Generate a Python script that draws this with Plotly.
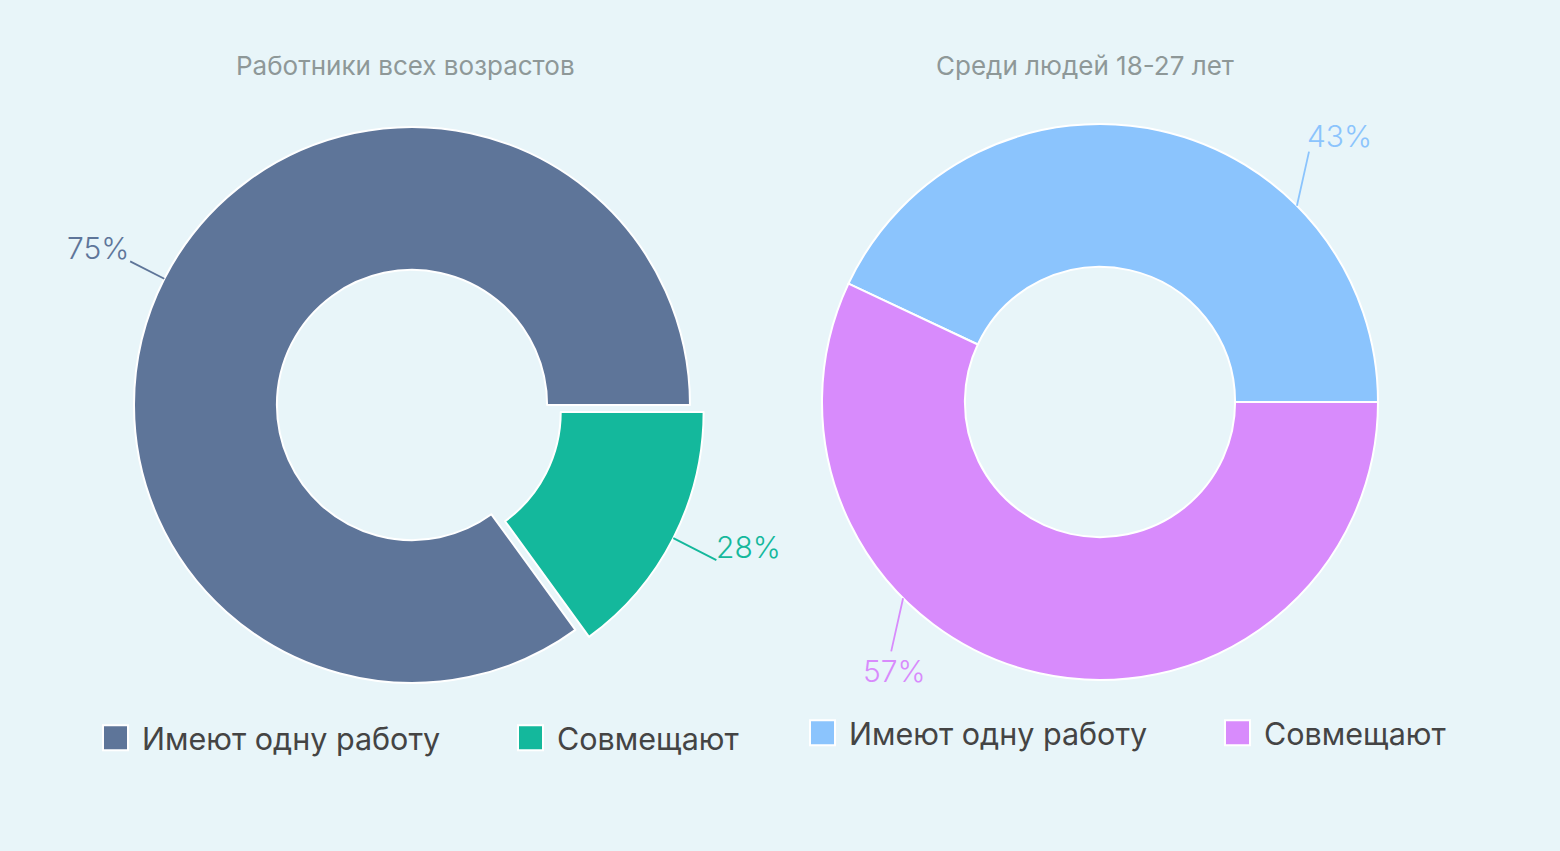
import math
import plotly.graph_objects as go

# ---------------- data ----------------
categories = ["Имеют одну работу", "Совмещают"]
titles = ["Работники всех возрастов", "Среди людей 18-27 лет"]
values_all = [85, 15]          # slice sizes (all ages)
labels_all = ["75%", "28%"]    # label text as printed
values_young = [43, 57]        # slice sizes (18-27)
labels_young = ["43%", "57%"]

# ---------------- style ----------------
W, H = 1560, 851
BG = "#E8F5F9"
colors_all = ["#5E7599", "#14B89C"]
colors_young = ["#8BC4FD", "#D88BFC"]
FONT = "Inter, Roboto, 'Noto Sans', sans-serif"

# second pie gets an invisible suffix so its legend entries are not merged with the first
NBSP = "\u00a0"

charts = [
    dict(values=values_all, text=labels_all, colors=colors_all, title=titles[0],
         labels=categories,
         cx=412, cy=405, r=278, pull=[0, 0.055], title_x=405,
         label_shift=0, line_len=[40, 50], place=["left", "right"],
         legend="legend"),
    dict(values=values_young, text=labels_young, colors=colors_young, title=titles[1],
         labels=[c + NBSP for c in categories],
         cx=1100, cy=402, r=278, pull=[0, 0], title_x=1085,
         label_shift=-32.5, line_len=[57, 56], place=["right", "below"],
         legend="legend2"),
]
HOLE = 0.486

fig = go.Figure()
annotations = []

for c in charts:
    maxpull = max(c["pull"])
    R = c["r"] * (1 + maxpull)
    dom_x = [(c["cx"] - R) / W, (c["cx"] + R) / W]
    dom_y = [1 - (c["cy"] + R) / H, 1 - (c["cy"] - R) / H]
    total = sum(c["values"])
    first_span = 360.0 * c["values"][0] / total
    # counterclockwise: first slice ends at 3 o'clock, the rest follow counterclockwise
    fig.add_trace(go.Pie(
        labels=c["labels"], values=c["values"], sort=False,
        direction="counterclockwise", rotation=90 - first_span,
        hole=HOLE, pull=c["pull"], textinfo="none", hoverinfo="skip",
        marker=dict(colors=c["colors"], line=dict(color="white", width=2)),
        domain=dict(x=dom_x, y=dom_y), legend=c["legend"],
    ))
    annotations.append(dict(
        text=c["title"], x=c["title_x"] / W, y=1 - 66 / H, xref="paper", yref="paper",
        xanchor="center", yanchor="middle", showarrow=False,
        font=dict(size=26, color="#8E9898", family=FONT)))
    start = 0.0
    for i, v in enumerate(c["values"]):
        span = 360.0 * v / total
        mid = start + span / 2
        anchor_ang = math.radians(mid + c["label_shift"])
        dir_ang = math.radians(mid)
        pull_px = c["pull"][i] * c["r"]
        ox = c["cx"] + pull_px * math.cos(dir_ang)
        oy = c["cy"] - pull_px * math.sin(dir_ang)
        axp = ox + c["r"] * math.cos(anchor_ang)
        ayp = oy - c["r"] * math.sin(anchor_ang)
        L = c["line_len"][i]
        dx = L * math.cos(dir_ang)
        dy = -L * math.sin(dir_ang)
        col = c["colors"][i]
        annotations.append(dict(
            text="", x=axp / W, y=1 - ayp / H, xref="paper", yref="paper",
            ax=dx, ay=dy, showarrow=True, arrowhead=0, arrowwidth=1.8,
            arrowcolor=col, standoff=0, startstandoff=0))
        ex, ey = axp + dx, ayp + dy
        p = c["place"][i]
        if p == "left":
            xa, ya, ex2, ey2 = "right", "bottom", ex + 2, ey + 7
        elif p == "right":
            xa, ya, ex2, ey2 = "left", "bottom", ex - 4, ey + 6
        else:
            xa, ya, ex2, ey2 = "center", "top", ex + 4, ey - 2
        annotations.append(dict(
            text=c["text"][i], x=ex2 / W, y=1 - ey2 / H, xref="paper", yref="paper",
            xanchor=xa, yanchor=ya, showarrow=False,
            font=dict(size=30, color=col, family=FONT, weight=300)))
        start += span

legend_common = dict(orientation="h", xanchor="left", yanchor="middle",
                     bgcolor="rgba(0,0,0,0)", entrywidth=357, entrywidthmode="pixels",
                     itemwidth=43,
                     font=dict(size=30.5, color="#444444", family=FONT))
fig.update_layout(
    width=W, height=H, paper_bgcolor=BG, plot_bgcolor=BG,
    margin=dict(l=0, r=0, t=0, b=0, autoexpand=False),
    showlegend=True,
    legend=dict(x=89 / W, y=1 - 738 / H, **legend_common),
    legend2=dict(x=796 / W, y=1 - 733 / H, **legend_common),
    annotations=annotations,
)

post = (
    "document.body.style.margin='0';"
    "document.body.style.background='%s';"
    "document.querySelectorAll('path.legendpie').forEach(function(p){"
    "p.setAttribute('d','M12.5,12.5H-12.5V-12.5H12.5Z');});"
) % BG

fig.write_html("out.html", config={"displayModeBar": False}, post_script=post)
